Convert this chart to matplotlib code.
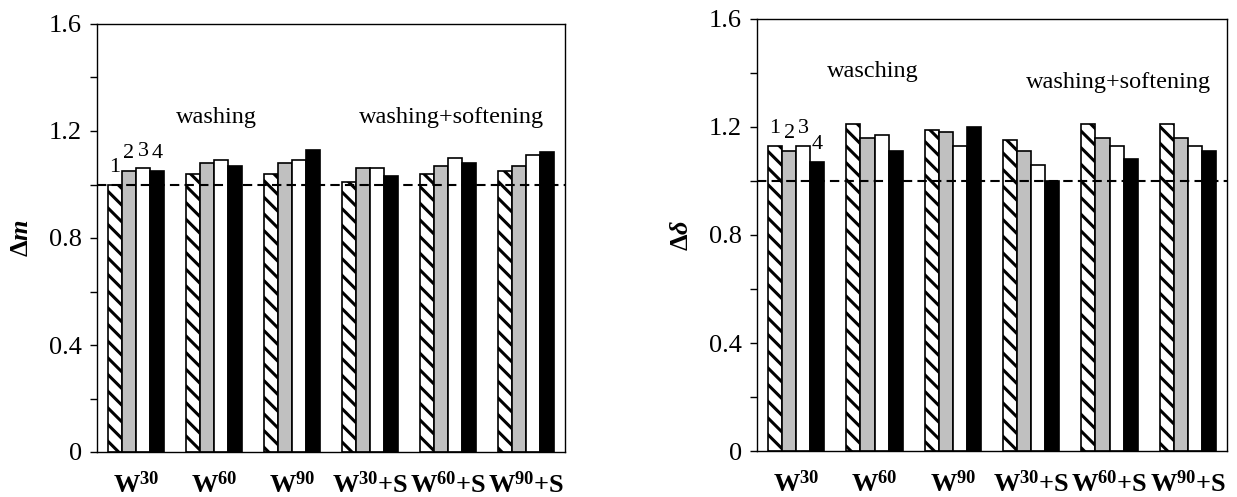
import numpy as np
import matplotlib
matplotlib.use("Agg")
import matplotlib.pyplot as plt

plt.rcParams['font.family'] = ['Liberation Serif', 'DejaVu Serif']
plt.rcParams['mathtext.fontset'] = 'custom'
plt.rcParams['mathtext.rm'] = 'Liberation Serif'
plt.rcParams['mathtext.it'] = 'Liberation Serif:italic'
plt.rcParams['mathtext.bf'] = 'Liberation Serif:bold'
plt.rcParams['mathtext.bfit'] = 'Liberation Serif:italic:bold'
plt.rcParams['hatch.linewidth'] = 2.2

# data
groups = [r"$\mathbf{W^{30}}$", r"$\mathbf{W^{60}}$", r"$\mathbf{W^{90}}$",
          r"$\mathbf{W^{30}{+}S}$", r"$\mathbf{W^{60}{+}S}$", r"$\mathbf{W^{90}{+}S}$"]
dm_1 = [1.00, 1.04, 1.04, 1.01, 1.04, 1.05]
dm_2 = [1.05, 1.08, 1.08, 1.06, 1.07, 1.07]
dm_3 = [1.06, 1.09, 1.09, 1.06, 1.10, 1.11]
dm_4 = [1.05, 1.07, 1.13, 1.03, 1.08, 1.12]

dd_1 = [1.13, 1.21, 1.19, 1.15, 1.21, 1.21]
dd_2 = [1.11, 1.16, 1.18, 1.11, 1.16, 1.16]
dd_3 = [1.13, 1.17, 1.13, 1.06, 1.13, 1.13]
dd_4 = [1.07, 1.11, 1.20, 1.00, 1.08, 1.11]

sample_labels = ["1", "2", "3", "4"]

W = 1237
H = 497
fig = plt.figure(figsize=(W / 100, H / 100), dpi=100)
ax1 = fig.add_axes([97 / W, (H - 452) / H, 468 / W, 428 / H])
ax2 = fig.add_axes([757 / W, (H - 451) / H, 470 / W, 432 / H])

styles = [dict(facecolor='white', hatch=r'\\'),
          dict(facecolor='#c0c0c0'),
          dict(facecolor='white'),
          dict(facecolor='black')]
bw = 0.18
x = np.arange(len(groups))


def panel(ax, series, ylabel, txt1, pos1, txt2, pos2):
    for i, vals in enumerate(series):
        off = (i - 1.5) * bw
        ax.bar(x + off, vals, bw, edgecolor='black', linewidth=1.2, **styles[i])
        # sample numbers above first group
        ax.text(off, vals[0] + 0.065, sample_labels[i], ha='center', va='center', fontsize=16)
    ax.axhline(1.0, color='black', lw=1.5, dashes=(4.5, 2.5))
    ax.set_xlim(-0.5, 5.5)
    ax.set_ylim(0, 1.6)
    ax.set_yticks(np.arange(0, 1.61, 0.2))
    ax.set_yticklabels(['0', '', '0.4', '', '0.8', '', '1.2', '', '1.6'], fontsize=19)
    ax.set_xticks(x)
    ax.set_xticklabels(groups, fontsize=19)
    ax.tick_params(axis='x', length=0, pad=14)
    ax.tick_params(axis='y', direction='out', length=5, width=1, pad=6)
    for s in ax.spines.values():
        s.set_linewidth(1.0)
    ax.set_ylabel(ylabel, fontsize=19, labelpad=11)
    ax.text(pos1[0], pos1[1], txt1, ha='center', va='center', fontsize=17.5)
    ax.text(pos2[0], pos2[1], txt2, ha='center', va='center', fontsize=17.5)


panel(ax1, [dm_1, dm_2, dm_3, dm_4], r"$\mathbf{\Delta}\mathbfit{m}$",
      "washing", (1.03, 1.25), "washing+softening", (4.05, 1.25))
panel(ax2, [dd_1, dd_2, dd_3, dd_4], r"$\mathbf{\Delta}\mathbfit{\delta}$",
      "wasching", (0.98, 1.405), "washing+softening", (4.11, 1.365))

fig.savefig("out.png", dpi=100)
